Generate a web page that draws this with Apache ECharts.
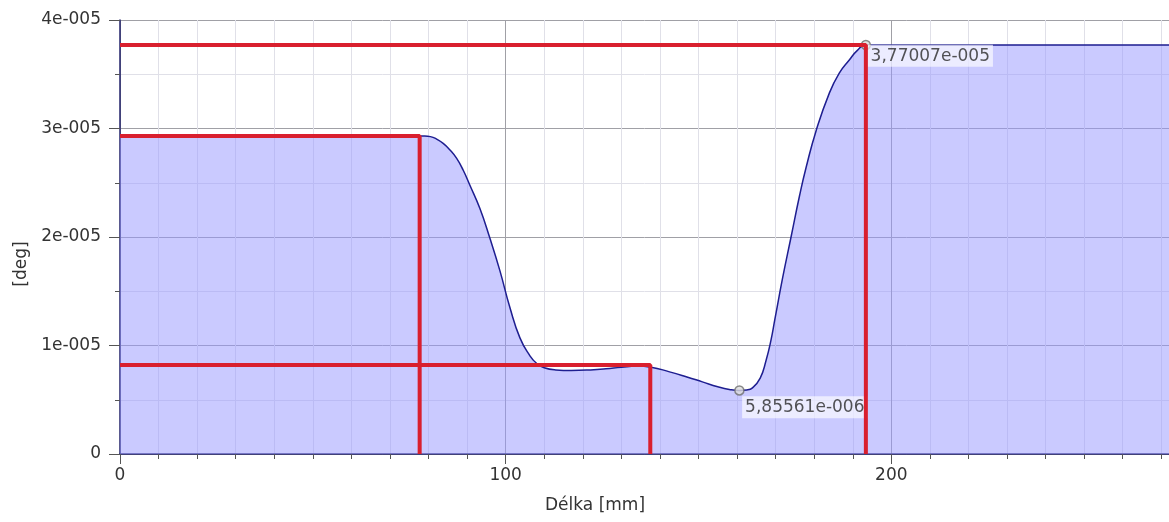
<!DOCTYPE html>
<html>
<head>
<meta charset="utf-8">
<script src="https://cdn.jsdelivr.net/npm/echarts@6/dist/echarts.min.js"></script>
<style>
html,body{margin:0;padding:0;background:#fff;}
#chart{width:1169px;height:522px;}
</style>
</head>
<body>
<div id="chart"></div>
<script>
// Curve: length [mm] and angle [deg]
const lengthMm = [0, 79, 80.5, 82, 83.8, 85.5, 87.3, 89, 90.7, 93.3, 95.9, 98.5, 101.1, 103.7, 106.3, 108, 110, 113, 117, 122, 126, 130, 134, 137.7, 142.5, 147, 151, 155, 158, 160.6, 162.5, 164, 166, 167.5, 168.8, 169.8, 171.8, 174, 176.2, 177.9, 180.5, 183.9, 186.5, 189.1, 191.2, 193.4, 272];
const angleDeg = [2.93e-5, 2.93e-5, 2.925e-5, 2.905e-5, 2.863e-5, 2.805e-5, 2.725e-5, 2.615e-5, 2.479e-5, 2.264e-5, 1.99e-5, 1.69e-5, 1.35e-5, 1.07e-5, 0.905e-5, 0.836e-5, 0.795e-5, 0.775e-5, 0.77e-5, 0.775e-5, 0.785e-5, 0.80e-5, 0.81e-5, 0.80e-5, 0.757e-5, 0.71e-5, 0.665e-5, 0.62e-5, 0.595e-5, 0.585561e-5, 0.59e-5, 0.61e-5, 0.70e-5, 0.86e-5, 1.05e-5, 1.24e-5, 1.62e-5, 2.0e-5, 2.38e-5, 2.64e-5, 2.98e-5, 3.324e-5, 3.51e-5, 3.631e-5, 3.72e-5, 3.77007e-5, 3.77007e-5];

// Red reference lines (corner at refX, refY)
const refX = [77.7, 137.5, 193.4];
const refY = [2.93e-5, 0.82e-5, 3.77007e-5];

// Marked points
const markX = [160.6, 193.4];
const markY = [5.85561e-6, 3.77007e-5];
const markLabels = ['5,85561e-006', '3,77007e-005'];

// Axis settings
const xMin = 0, xMax = 272, xMajor = 100, xMinor = 10;
const yMin = 0, yMax = 4e-5, yMajor = 1e-5, yMinor = 5e-6;
const xTitle = 'Délka [mm]';
const yTitle = '[deg]';

const FONT = 'DejaVu Sans';
const navy = '#22226a';
const majorGrid = '#a0a0a6';
const minorGrid = '#e0e0e8';

const chart = echarts.init(document.getElementById('chart'), null, {renderer: 'canvas'});

const curve = lengthMm.map((x, i) => [x, angleDeg[i]]);

const refSeries = refX.map((x, i) => ({
  type: 'line',
  data: [[0, refY[i]], [x, refY[i]], [x, 0]],
  showSymbol: false,
  symbol: 'none',
  lineStyle: {color: '#d91f2e', width: 4},
  z: 10,
  silent: true,
  animation: false
}));

const markPositions = [[8, 11], [7, 5]];

const option = {
  animation: false,
  grid: {left: 120, right: 0, top: 20, bottom: 68, containLabel: false},
  xAxis: [
    {
      type: 'value', min: xMin, max: xMax, interval: xMinor, position: 'bottom',
      axisLine: {show: true, lineStyle: {color: navy, width: 1.5}},
      axisTick: {show: true, length: 5, lineStyle: {color: '#555'}},
      axisLabel: {show: false},
      splitLine: {show: true, lineStyle: {color: [majorGrid, minorGrid, minorGrid, minorGrid, minorGrid, minorGrid, minorGrid, minorGrid, minorGrid, minorGrid], width: 1}}
    },
    {
      type: 'value', min: xMin, max: xMax, interval: xMajor, position: 'bottom',
      axisLine: {show: false},
      axisTick: {show: true, length: 10, lineStyle: {color: '#555'}},
      axisLabel: {show: true, margin: 13, showMaxLabel: false, color: '#333', fontFamily: FONT, fontSize: 17,
        formatter: v => (v % 100 === 0 ? String(v) : '')},
      splitLine: {show: false}
    }
  ],
  yAxis: [
    {
      type: 'value', min: yMin, max: yMax, interval: yMinor, position: 'left',
      axisLine: {show: true, lineStyle: {color: navy, width: 1.5}},
      axisTick: {show: true, length: 5, lineStyle: {color: '#555'}},
      axisLabel: {show: false},
      splitLine: {show: true, lineStyle: {color: [majorGrid, minorGrid], width: 1}}
    },
    {
      type: 'value', min: yMin, max: yMax, interval: yMajor, position: 'left',
      axisLine: {show: false},
      axisTick: {show: true, length: 11, lineStyle: {color: '#555'}},
      axisLabel: {show: true, margin: 19, color: '#333', fontFamily: FONT, fontSize: 17,
        formatter: v => {
          const n = Math.round(v / 1e-5);
          return n === 0 ? '0' : n + 'e-005';
        }},
      splitLine: {show: false}
    }
  ],
  graphic: [
    {type: 'text', left: 545, top: 497, style: {text: xTitle, fill: '#333', font: '17px "DejaVu Sans"'}},
    {type: 'text', x: 22, y: 264, rotation: Math.PI / 2,
      style: {text: yTitle, fill: '#333', font: '17px "DejaVu Sans"', align: 'center', verticalAlign: 'middle'}}
  ],
  series: [
    {
      type: 'line',
      data: curve,
      xAxisIndex: 0, yAxisIndex: 0,
      smooth: 0.5,
      showSymbol: false,
      symbol: 'none',
      lineStyle: {color: '#1e1e90', width: 1.5},
      areaStyle: {color: 'rgba(150,150,255,0.5)', opacity: 1, origin: 'start'},
      z: 2
    },
    ...refSeries,
    {
      type: 'scatter',
      data: markX.map((x, i) => ({
        value: [x, markY[i]],
        label: {
          show: true,
          formatter: markLabels[i],
          position: markPositions[i],
          color: '#2a2a2a',
          fontFamily: FONT,
          fontSize: 17,
          backgroundColor: 'rgba(255,255,255,0.8)',
          padding: [3, 3, 2, 3]
        }
      })),
      symbol: 'circle',
      symbolSize: 9,
      itemStyle: {color: '#dcdcdc', borderColor: '#6e6e6e', borderWidth: 1.5},
      z: 5
    }
  ]
};
chart.setOption(option);
</script>
</body>
</html>
